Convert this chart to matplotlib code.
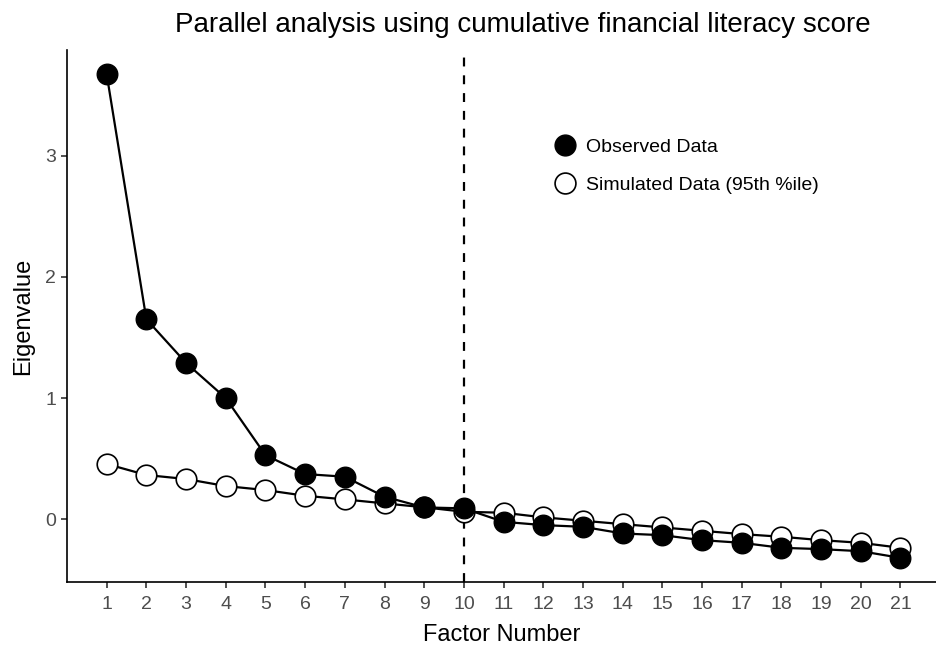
import matplotlib
matplotlib.use("Agg")
import matplotlib.pyplot as plt
from matplotlib.lines import Line2D

plt.rcParams['font.family'] = ['Liberation Sans', 'DejaVu Sans']

factors = list(range(1, 22))
observed = [3.67, 1.65, 1.29, 1.00, 0.53, 0.374, 0.352, 0.187, 0.099, 0.091,
            -0.02, -0.047, -0.061, -0.116, -0.13, -0.171, -0.193, -0.234,
            -0.245, -0.262, -0.317]
simulated = [0.457, 0.366, 0.333, 0.275, 0.242, 0.195, 0.165, 0.132, 0.10,
             0.063, 0.055, 0.017, -0.011, -0.039, -0.066, -0.094, -0.121,
             -0.143, -0.171, -0.193, -0.234]
cutoff = 10
title = "Parallel analysis using cumulative financial literacy score"

fig = plt.figure(figsize=(9.37, 6.48), dpi=100)
ax = fig.add_axes([67 / 937, 1 - 582 / 648, (937 - 67) / 937, (582 - 50) / 648])

ax.plot(factors, simulated, color='black', lw=1.6, zorder=2)
ax.plot(factors, simulated, 'o', ms=14.8, mfc='white', mec='black', mew=1.2, zorder=3)
ax.plot(factors, observed, color='black', lw=1.6, zorder=4)
ax.plot(factors, observed, 'o', ms=14.8, mfc='black', mec='black', zorder=5)
ax.axvline(cutoff, color='black', ls=(0, (4, 4)), lw=1.6, zorder=1)

ax.set_xlim(0, 21.92)
ax.set_ylim(-0.516, 3.87)
ax.set_xticks(factors)
ax.set_yticks([0, 1, 2, 3])
for s in ['top', 'right']:
    ax.spines[s].set_visible(False)
for s in ['left', 'bottom']:
    ax.spines[s].set_linewidth(1.2)
ax.tick_params(axis='both', length=4, width=1.2, color='#333333',
               labelcolor='#4d4d4d', labelsize=14)
ax.tick_params(axis='x', pad=6)
ax.tick_params(axis='y', pad=4)
ax.set_xlabel("Factor Number", fontsize=17, labelpad=8)
ax.set_ylabel("Eigenvalue", fontsize=17, labelpad=8)
fig.text(523 / 937, 1 - 25 / 648, title, ha='center', va='center', fontsize=20)

handles = [
    Line2D([], [], ls='none', marker='o', ms=15, mfc='black', mec='black'),
    Line2D([], [], ls='none', marker='o', ms=15, mfc='white', mec='black', mew=1.2),
]
ax.legend(handles, ["Observed Data", "Simulated Data (95th %ile)"],
          loc='center left', bbox_to_anchor=(0.536, 0.782), frameon=False,
          fontsize=14, handletextpad=0.3, labelspacing=1.06, handlelength=1.5)

fig.savefig("out.png", dpi=100)
